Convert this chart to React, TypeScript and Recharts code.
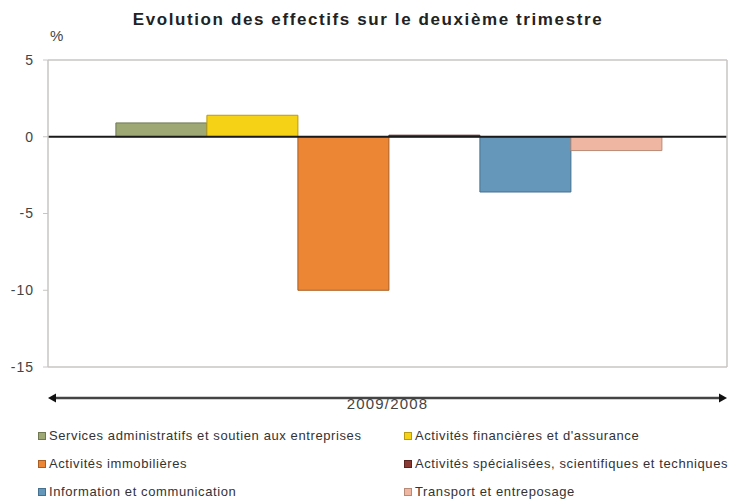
import React from 'react';
import { BarChart, Bar, XAxis, YAxis, CartesianGrid, ReferenceLine } from 'recharts';

const periods = ['2009/2008'];

const seriesNames = [
  'Services administratifs et soutien aux entreprises',
  'Activités financières et d\'assurance',
  'Activités immobilières',
  'Activités spécialisées, scientifiques et techniques',
  'Information et communication',
  'Transport et entreposage',
];

const seriesKeys = ['services', 'finance', 'immo', 'spec', 'info', 'transport'];

const servicesValues = [0.9];
const financeValues = [1.4];
const immoValues = [-10];
const specValues = [0.1];
const infoValues = [-3.6];
const transportValues = [-0.9];

const seriesColors = ['#9DA874', '#F5D216', '#EC8634', '#8A3A32', '#6597BA', '#EFB7A2'];
const seriesStrokes = ['#6f7850', '#b89a10', '#a85d22', '#5a2520', '#45708f', '#b88a78'];

const yTicks = [5, 0, -5, -10, -15];

const valuesBySeries = [servicesValues, financeValues, immoValues, specValues, infoValues, transportValues];

const data = periods.map((period, i) => {
  const row: Record<string, string | number> = { period };
  seriesKeys.forEach((key, s) => {
    row[key] = valuesBySeries[s][i];
  });
  return row;
});

const FONT = '"Liberation Sans", Arial, sans-serif';

const PeriodTick = (props: any) => {
  const { x, y, payload, width } = props;
  const w = typeof width === 'number' ? width : 679;
  const x0 = x - w / 2;
  const x1 = x + w / 2;
  const ly = y + 31;
  return (
    <g>
      <line x1={x0 + 6} y1={ly} x2={x1 - 6} y2={ly} stroke="#444" strokeWidth={2.5} />
      <polygon points={`${x0},${ly} ${x0 + 8},${ly - 4.5} ${x0 + 8},${ly + 4.5}`} fill="#111" />
      <polygon points={`${x1},${ly} ${x1 - 8},${ly - 4.5} ${x1 - 8},${ly + 4.5}`} fill="#111" />
      <text
        x={x}
        y={y + 42}
        textAnchor="middle"
        fontSize={15}
        letterSpacing={1.2}
        fill="#444"
        fontFamily={FONT}
      >
        {payload.value}
      </text>
    </g>
  );
};

export default function App() {
  return (
    <div
      style={{
        position: 'absolute',
        left: 0,
        top: 0,
        width: 730,
        height: 499,
        background: '#fff',
        fontFamily: FONT,
        overflow: 'hidden',
      }}
    >
      <div
        style={{
          position: 'absolute',
          top: 10,
          left: 0,
          width: 736,
          textAlign: 'center',
          fontSize: 17,
          fontWeight: 'bold',
          letterSpacing: 1.6,
          color: '#222',
        }}
      >
        Evolution des effectifs sur le deuxième trimestre
      </div>
      <div style={{ position: 'absolute', top: 27, left: 50, fontSize: 15, color: '#444' }}>%</div>
      <BarChart
        width={730}
        height={499}
        data={data}
        margin={{ top: 60, right: 0, left: 0, bottom: 87 }}
        barCategoryGap="10%"
        barGap={0}
      >
        <CartesianGrid vertical={false} stroke="#c8c4c4" strokeWidth={1.5} />
        <XAxis
          dataKey="period"
          height={45}
          axisLine={false}
          tickLine={false}
          tickSize={0}
          tickMargin={0}
          tick={<PeriodTick />}
        />
        <YAxis
          yAxisId="left"
          width={48}
          domain={[-15, 5]}
          ticks={yTicks}
          interval={0}
          axisLine={{ stroke: '#c8c4c4', strokeWidth: 1.5 }}
          tickLine={{ stroke: '#c8c4c4' }}
          tickSize={5}
          tickMargin={9}
          tick={{ fill: '#444', fontSize: 14, fontFamily: FONT, letterSpacing: 1 }}
        />
        <YAxis
          yAxisId="right"
          orientation="right"
          width={3}
          domain={[-15, 5]}
          tick={false}
          tickLine={false}
          axisLine={{ stroke: '#c8c4c4', strokeWidth: 1.5 }}
        />
        {seriesKeys.map((key, s) => (
          <Bar
            key={key}
            yAxisId="left"
            dataKey={key}
            name={seriesNames[s]}
            fill={seriesColors[s]}
            stroke={seriesStrokes[s]}
            strokeWidth={1}
            isAnimationActive={false}
          />
        ))}
        <ReferenceLine yAxisId="left" y={0} stroke="#1a1a1a" strokeWidth={2} />
      </BarChart>
      <div
        style={{
          position: 'absolute',
          top: 427,
          left: 38,
          width: 692,
          display: 'grid',
          gridTemplateColumns: '366px 326px',
          rowGap: 11,
          fontSize: 13,
          letterSpacing: 0.6,
          color: '#333',
        }}
      >
        {seriesNames.map((name, s) => (
          <div key={name} style={{ display: 'flex', alignItems: 'center', height: 17, whiteSpace: 'nowrap' }}>
            <span
              style={{
                display: 'inline-block',
                width: 6,
                height: 6,
                marginRight: 3,
                background: seriesColors[s],
                border: `1px solid ${seriesStrokes[s]}`,
              }}
            />
            {name}
          </div>
        ))}
      </div>
    </div>
  );
}
